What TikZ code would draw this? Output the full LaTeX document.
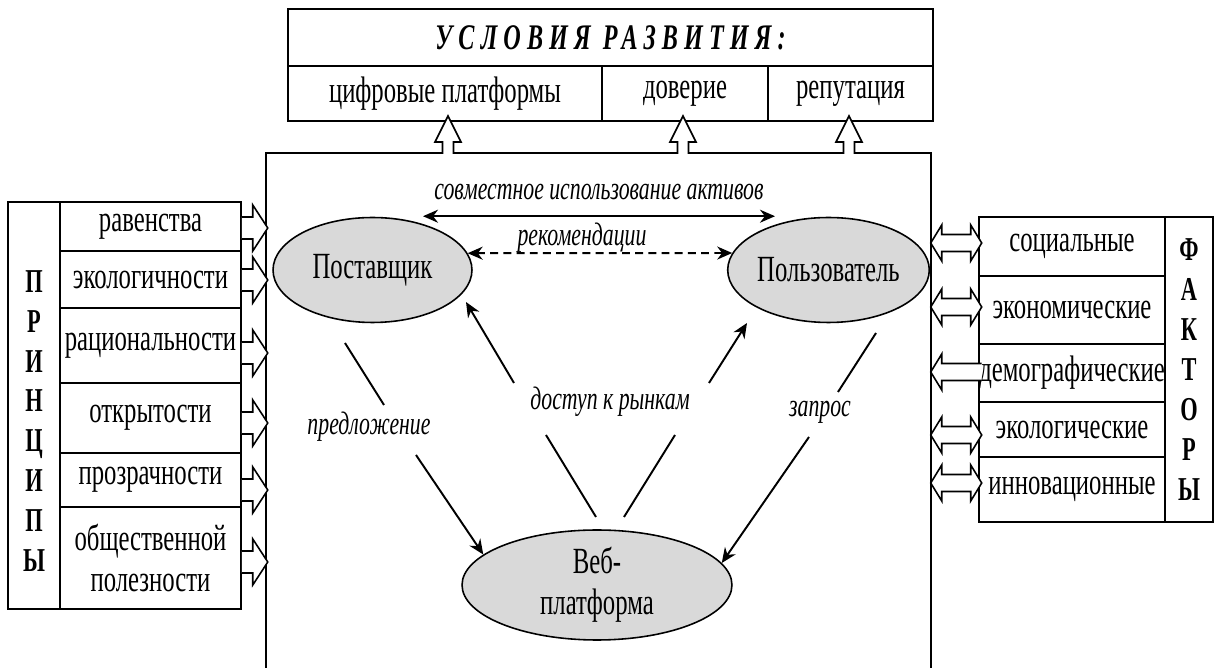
\documentclass[tikz,border=0pt]{standalone}
\usepackage{fontspec}
\setmainfont{Liberation Serif}[FakeStretch=0.67]
\usetikzlibrary{arrows.meta,shapes.geometric}

\begin{document}
\begin{tikzpicture}[
  x=0.02cm, y=-0.02cm,
  font=\fontsize{21}{23.5}\selectfont,
  line width=0.9pt,
  cell/.style={draw, inner sep=0pt, align=center},
  lcell/.style={cell, minimum width=3.62cm},
  rcell/.style={cell, minimum width=3.72cm},
  oval/.style={ellipse, draw, fill=black!15, inner sep=0pt, align=center},
  lab/.style={font=\fontsize{18.5}{21}\selectfont\itshape, inner sep=1pt},
  vert/.style={font=\fontsize{19}{22.7}\selectfont\bfseries, align=center, inner sep=0pt},
  ln/.style={line width=1.1pt},
  arr/.style={ln, -{Stealth[length=3mm, width=2.6mm]}},
  dbl/.style={ln, {Stealth[length=3mm, width=2.6mm]}-{Stealth[length=3mm, width=2.6mm]}},
  inarr/.pic={\draw[fill=white] (0,-11) -- (11,-11) -- (11,-23) -- (26,0) -- (11,23) -- (11,11) -- (0,11);},
  uparr/.pic={\draw[fill=white] (-5.5,0) -- (-5.5,-12) -- (-13,-12) -- (0,-38) -- (13,-12) -- (5.5,-12) -- (5.5,0);},
  twoarr/.pic={\draw[fill=white] (0,0) -- (11,-18) -- (11,-8.5) -- (40,-8.5) -- (40,-18) -- (51,0)
                -- (40,18) -- (40,8.5) -- (11,8.5) -- (11,18) -- cycle;},
  backarr/.pic={\draw[fill=white] (51,-8.5) -- (11,-8.5) -- (11,-18) -- (0,0) -- (11,18) -- (11,8.5) -- (51,8.5);}
]
\useasboundingbox (0,0) rectangle (1215,668);

% ---------------- top: conditions ----------------
\node[cell, minimum width=12.9cm, minimum height=1.14cm,
      font=\fontsize{20.5}{23}\selectfont\bfseries\itshape\addfontfeature{LetterSpace=17}] (usl) at (610.5,37.5)
  {УСЛОВИЯ РАЗВИТИЯ:};
\node[cell, minimum width=6.28cm, minimum height=1.1cm] (cif) at (445,93.5) {цифровые платформы};
\node[cell, minimum width=3.32cm, minimum height=1.1cm] (dov) at (685,93.5) {доверие};
\node[cell, minimum width=3.3cm, minimum height=1.1cm] (rep) at (850.5,93.5) {репутация};

% ---------------- centre: platform frame ----------------
\node[minimum width=13.26cm, minimum height=10.28cm, inner sep=0pt] (plat) at (598.5,411) {};
\draw (plat.south west) -- (plat.north west) -- (plat.north east) -- (plat.south east);

\pic at (448,154) {uparr};
\pic at (683,154) {uparr};
\pic at (849,154) {uparr};

\node[oval, minimum width=3.98cm, minimum height=2.1cm] (post) at (372.5,270) {Поставщик};
\node[oval, minimum width=3.94cm, minimum height=2.1cm] (pol) at (828.5,270) {Пользователь};
\node[oval, minimum width=5.4cm, minimum height=2.2cm] (web) at (597,585) {Веб-\\платформа};

\draw[dbl] ([shift={(50.5,-0.5)}]post.north) -- ([shift={(-53.5,-0.5)}]pol.north);
\node[lab] (sovm) at (599,192) {совместное использование активов};
\draw[dbl, dash pattern=on 4.5pt off 3pt] (post.10) -- (pol.170);
\node[lab] (rek) at (582,238) {рекомендации};

\coordinate (pr1) at (345,343);
\coordinate (pr2) at (384,405);
\coordinate (pr3) at (416,455);
\draw[ln] (pr1) -- (pr2);
\draw[arr] (pr3) -- (web.165);
\node[lab] (pred) at (369,427) {предложение};

\coordinate (dl1) at (596,517);
\coordinate (dl2) at (546,435);
\coordinate (dl3) at (514,383);
\coordinate (dl4) at (466,302);
\draw[ln] (dl1) -- (dl2);
\draw[arr] (dl3) -- (dl4);
\coordinate (dr1) at (624,517);
\coordinate (dr2) at (675,435);
\coordinate (dr3) at (709,383);
\coordinate (dr4) at (747,323);
\draw[ln] (dr1) -- (dr2);
\draw[arr] (dr3) -- (dr4);
\node[lab] (dost) at (610,402) {доступ к рынкам};

\coordinate (zp1) at (876,333);
\coordinate (zp2) at (838,392);
\coordinate (zp3) at (809,437);
\draw[ln] (zp1) -- (zp2);
\draw[arr] (zp3) -- (web.10);
\node[lab] (zapr) at (820,412) {запрос};

% ---------------- left: principles ----------------
\node[cell, minimum width=1.04cm, minimum height=8.14cm] (prinbox) at (34,405.5) {};
\node[vert] (prin) at (34,421) {П\\Р\\И\\Н\\Ц\\И\\П\\Ы};
\node[lcell, minimum height=0.98cm] (rav) at (150.5,226.5) {равенства};
\node[lcell, minimum height=1.14cm] (eko) at (150.5,279.5) {экологичности};
\node[lcell, minimum height=1.5cm] (rac) at (150.5,345.5) {рациональности};
\node[lcell, minimum height=1.4cm] (otk) at (150.5,418) {открытости};
\node[lcell, minimum height=1.08cm] (pro) at (150.5,480) {прозрачности};
\node[lcell, minimum height=2.04cm] (obs) at (150.5,558) {общественной\\полезности};

\pic at (rav.east |- 0,228) {inarr};
\pic at (eko.east |- 0,280) {inarr};
\pic at (rac.east |- 0,353) {inarr};
\pic at (otk.east |- 0,423) {inarr};
\pic at (pro.east |- 0,490) {inarr};
\pic at (obs.east |- 0,562) {inarr};

% ---------------- right: factors ----------------
\node[rcell, minimum height=1.18cm] (soc) at (1072,246.5) {социальные};
\node[rcell, minimum height=1.36cm] (eco) at (1072,310) {экономические};
\node[rcell, minimum height=1.16cm] (dem) at (1072,373) {демографические};
\node[rcell, minimum height=1.1cm] (ekl) at (1072,429.5) {экологические};
\node[rcell, minimum height=1.3cm] (inn) at (1072,489.5) {инновационные};
\node[cell, vert, draw, minimum width=0.96cm, minimum height=6.1cm] (fak) at (1189,369.5)
  {Ф\\А\\К\\Т\\О\\Р\\Ы};

\pic at (plat.east |- 0,243) {twoarr};
\pic at (plat.east |- 0,307) {twoarr};
\pic at (plat.east |- 0,372) {backarr};
\pic at (plat.east |- 0,435) {twoarr};
\pic at (plat.east |- 0,483) {twoarr};

\end{tikzpicture}
\end{document}
